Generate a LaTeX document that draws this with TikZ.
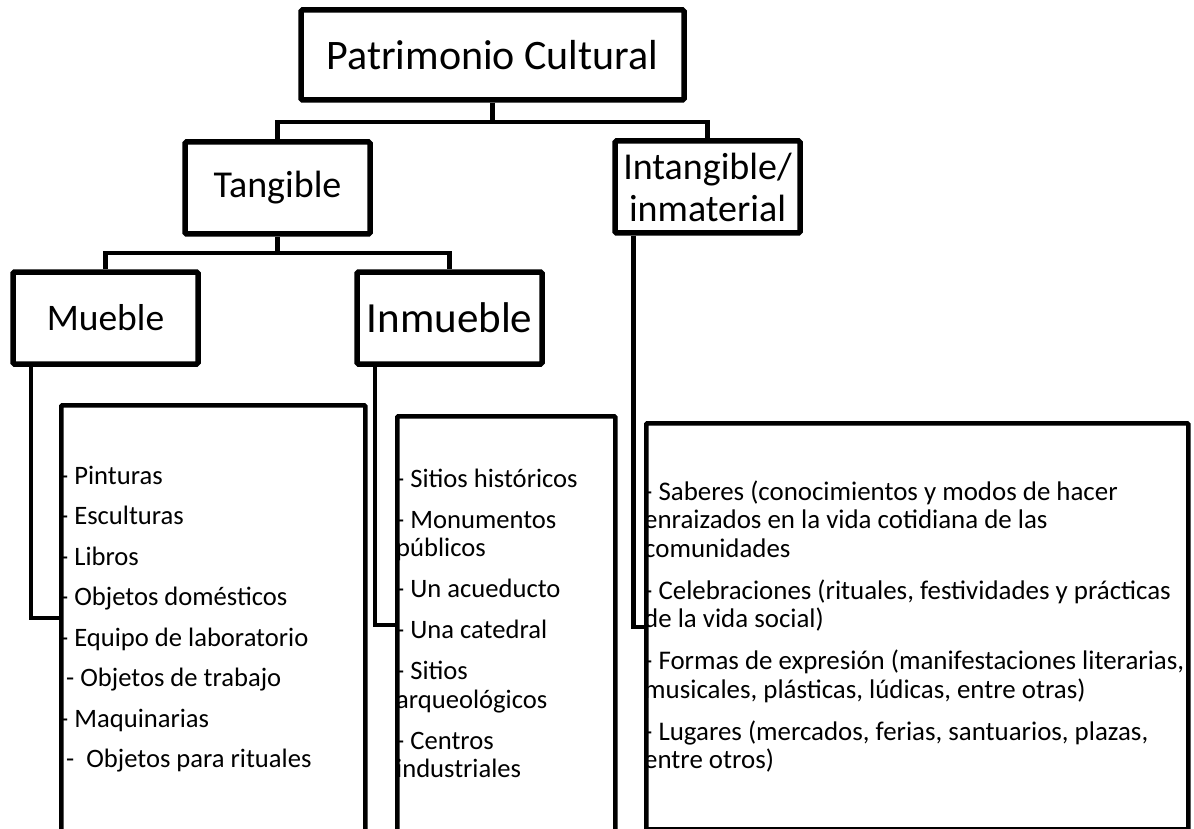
\documentclass[tikz,border=0pt]{standalone}
\usepackage{fontspec}
\setmainfont{Carlito}
\usetikzlibrary{positioning}

\tikzset{
  titlebox/.style={draw, line width=5.5pt, rounded corners=1.5pt, inner sep=0pt,
    minimum width=185pt, minimum height=92pt, align=center,
    font=\fontsize{38}{42}\selectfont},
  listframe/.style={draw, line width=4.5pt, rounded corners=1pt, inner sep=0pt, anchor=north west},
  listtext/.style={anchor=north west, inner sep=0pt, align=left,
    font=\fontsize{26.6}{28.5}\selectfont},
  link/.style={line width=4.5pt}
}

\begin{document}
\begin{tikzpicture}[x=1pt,y=-1pt]
\clip (0,0) rectangle (1194,829);
% levels
\node[titlebox, minimum width=383pt, minimum height=90pt, font=\fontsize{42}{48}\selectfont] (patr) at (492.5,55) {Patrimonio Cultural};
\node[titlebox] (tang) at (277.5,188) {Tangible};
\node[titlebox] (intang) at (707.5,187) {Intangible/\\inmaterial};
\node[titlebox, font=\fontsize{37.5}{42}\selectfont] (mueb) at (105.5,318) {Mueble};
\node[titlebox, font=\fontsize{43}{48}\selectfont] (inmu) at (449.5,318) {Inmueble};
\coordinate (pj) at (492.5,122);
\coordinate (tj) at (277.5,253);
\draw[link] (patr.south) -- (pj);
\draw[link] (tang.north) |- (pj) -| (intang.north);
\draw[link] (tang.south) -- (tj);
\draw[link] (mueb.north) |- (tj) -| (inmu.north);
% lists
\node[listframe, minimum width=304pt, minimum height=450pt] (mframe) at (59,403) {};
\node[listframe, minimum width=218pt, minimum height=450pt] (iframe) at (395,414) {};
\node[listframe, minimum width=542pt, minimum height=406pt] (gframe) at (644,421) {};
\node[listtext] (mtext) at (60,464) {\strut- Pinturas\\[12pt]
- Esculturas\\[12pt]
- Libros\\[12pt]
- Objetos domésticos\\[12pt]
- Equipo de laboratorio\\[12pt]
\ - Objetos de trabajo\\[12pt]
- Maquinarias\\[12pt]
\ -\ \ Objetos para rituales};
\node[listtext] (itext) at (396,467) {\strut- Sitios históricos\\[12.5pt]
- Monumentos\\públicos\\[12.5pt]
- Un acueducto\\[12.5pt]
- Una catedral\\[12.5pt]
- Sitios\\arqueológicos\\[12.5pt]
- Centros\\industriales};
\node[listtext, font=\fontsize{26.9}{28.5}\selectfont] (gtext) at (644,480) {\strut- Saberes (conocimientos y modos de hacer\\
enraizados en la vida cotidiana de las\\
comunidades\\[13.5pt]
- Celebraciones (rituales, festividades y prácticas\\
de la vida social)\\[13.5pt]
- Formas de expresión (manifestaciones literarias,\\
musicales, plásticas, lúdicas, entre otras)\\[13.5pt]
- Lugares (mercados, ferias, santuarios, plazas,\\
entre otros)};
% branches down to the lists
\coordinate (mbend) at (31,618);
\coordinate (ibend) at (375,625);
\coordinate (gbend) at (633.5,627);
\draw[link] (mbend |- mueb.south) -- (mbend) -- (mbend -| mframe.west);
\draw[link] (ibend |- inmu.south) -- (ibend) -- (ibend -| iframe.west);
\draw[link] (gbend |- intang.south) -- (gbend) -- (gbend -| gframe.west);
\end{tikzpicture}
\end{document}
